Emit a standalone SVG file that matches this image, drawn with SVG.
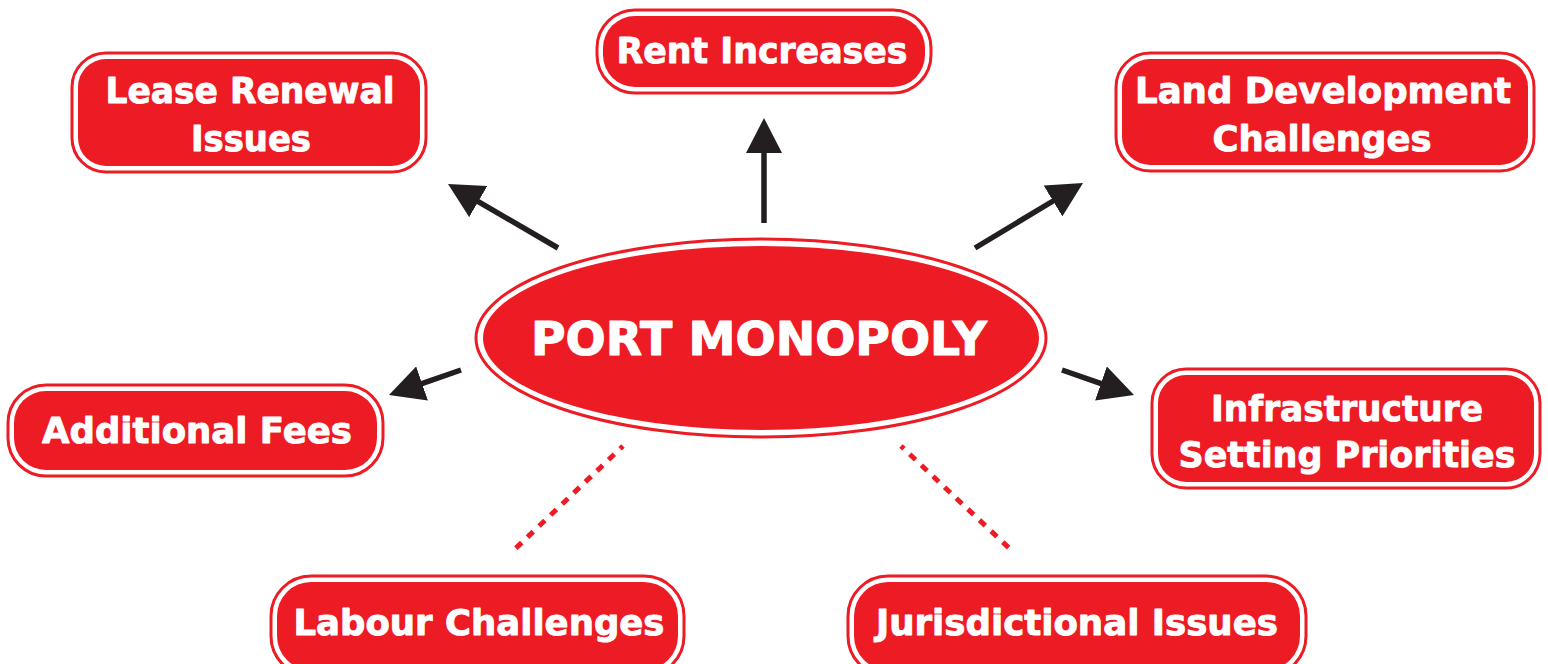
<svg xmlns="http://www.w3.org/2000/svg" width="1548" height="664" viewBox="0 0 1548 664">
<style>
.frame{fill:#ffffff;stroke:#ED1C24;stroke-width:3}
.fill{fill:#ED1C24}
.lbl{font-family:"DejaVu Sans","Liberation Sans",sans-serif;font-weight:bold;font-size:36px;fill:#ffffff;stroke:#ffffff;stroke-width:0.9;stroke-linejoin:round;text-anchor:middle}
.big{font-size:47px;stroke-width:1.1}
.arrow{stroke:#231F20;stroke-width:5.5;fill:none;marker-end:url(#head)}
.dots{stroke:#ED1C24;stroke-width:5;stroke-dasharray:8 8;stroke-dashoffset:4;fill:none}
</style>
<defs>
<marker id="head" markerUnits="userSpaceOnUse" markerWidth="36" markerHeight="36" viewBox="0 0 36 36" refX="1" refY="18" orient="auto">
<path d="M0,0 L35,18 L0,36 Z" fill="#231F20"/>
</marker>
</defs>
<rect width="1548" height="664" fill="#ffffff"/>
<g id="connectors">
<line class="arrow" x1="764" y1="223" x2="764" y2="152"/>
<line class="arrow" x1="558" y1="248" x2="477.4" y2="201.1"/>
<line class="arrow" x1="975" y1="248" x2="1053.9" y2="200.5"/>
<line class="arrow" x1="461" y1="370" x2="421.1" y2="383.8"/>
<line class="arrow" x1="1062" y1="370" x2="1101.9" y2="383.8"/>
<line class="dots" x1="623" y1="446" x2="515" y2="549"/>
<line class="dots" x1="901" y1="446" x2="1010" y2="549"/>
</g>
<g id="port-monopoly">
<ellipse class="frame" cx="761" cy="338" rx="285" ry="99"/>
<ellipse class="fill" cx="761" cy="338" rx="278" ry="92"/>
<text class="lbl big" x="759" y="355" textLength="456" lengthAdjust="spacingAndGlyphs">PORT MONOPOLY</text>
</g>
<g id="lease-renewal">
<rect class="frame" x="72" y="53" width="354" height="119" rx="34"/>
<rect class="fill" x="78" y="59" width="342" height="107" rx="28"/>
<text class="lbl" x="250" y="103" textLength="289" lengthAdjust="spacingAndGlyphs">Lease Renewal</text>
<text class="lbl" x="251" y="151" textLength="120" lengthAdjust="spacingAndGlyphs">Issues</text>
</g>
<g id="rent-increases">
<rect class="frame" x="597" y="10" width="334" height="83" rx="38"/>
<rect class="fill" x="603" y="16" width="322" height="71" rx="32"/>
<text class="lbl" x="762" y="63" textLength="291" lengthAdjust="spacingAndGlyphs">Rent Increases</text>
</g>
<g id="land-development">
<rect class="frame" x="1116" y="53" width="418" height="118" rx="34"/>
<rect class="fill" x="1122" y="59" width="406" height="106" rx="28"/>
<text class="lbl" x="1323" y="103" textLength="376" lengthAdjust="spacingAndGlyphs">Land Development</text>
<text class="lbl" x="1322" y="151" textLength="219" lengthAdjust="spacingAndGlyphs">Challenges</text>
</g>
<g id="additional-fees">
<rect class="frame" x="8" y="385" width="375" height="91" rx="38"/>
<rect class="fill" x="14" y="391" width="363" height="79" rx="32"/>
<text class="lbl" x="197" y="443" textLength="310" lengthAdjust="spacingAndGlyphs">Additional Fees</text>
</g>
<g id="infrastructure">
<rect class="frame" x="1152" y="369" width="388" height="119" rx="34"/>
<rect class="fill" x="1158" y="375" width="376" height="107" rx="28"/>
<text class="lbl" x="1347" y="421" textLength="272" lengthAdjust="spacingAndGlyphs">Infrastructure</text>
<text class="lbl" x="1347" y="467" textLength="337" lengthAdjust="spacingAndGlyphs">Setting Priorities</text>
</g>
<g id="labour-challenges">
<rect class="frame" x="271" y="576" width="413" height="100" rx="40"/>
<rect class="fill" x="277" y="582" width="401" height="88" rx="34"/>
<text class="lbl" x="479" y="635" textLength="371" lengthAdjust="spacingAndGlyphs">Labour Challenges</text>
</g>
<g id="jurisdictional-issues">
<rect class="frame" x="848" y="576" width="458" height="100" rx="40"/>
<rect class="fill" x="854" y="582" width="446" height="88" rx="34"/>
<text class="lbl" x="1077" y="635" textLength="402" lengthAdjust="spacingAndGlyphs">Jurisdictional Issues</text>
</g>
</svg>
